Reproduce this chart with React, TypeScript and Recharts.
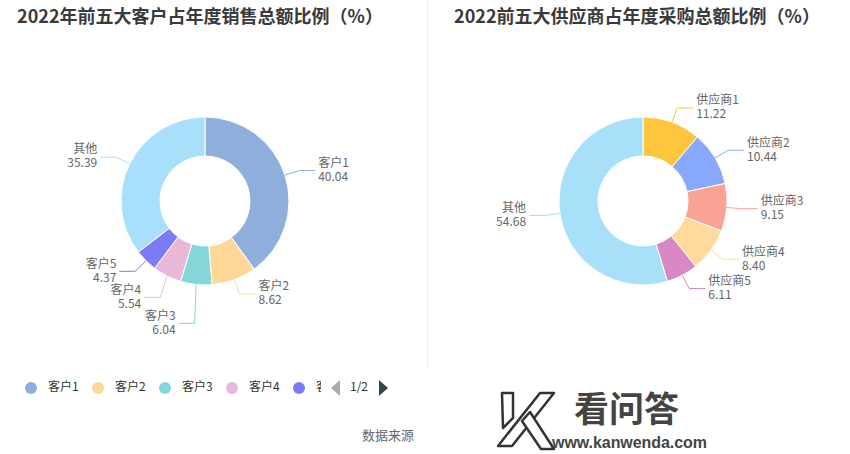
import React from "react";
import { PieChart, Pie, Cell } from "recharts";

const customerNames = ["客户1", "客户2", "客户3", "客户4", "客户5", "其他"];
const customerShares = [40.04, 8.62, 6.04, 5.54, 4.37, 35.39];
const customerColors = ["#8eaedc", "#fed898", "#84d6d8", "#e7b8da", "#7b7cf5", "#a8dffa"];

const supplierNames = ["供应商1", "供应商2", "供应商3", "供应商4", "供应商5", "其他"];
const supplierShares = [11.22, 10.44, 9.15, 8.4, 6.11, 54.68];
const supplierColors = ["#ffc53d", "#87a8fd", "#f9a396", "#ffdb9b", "#d888c4", "#a8e0fa"];

const legendNames = ["客户1", "客户2", "客户3", "客户4", "客户5"];

const FONT = "'Noto Sans CJK SC', 'Open Sans', sans-serif";
const CY = 201;
const OUTER = 84;
const INNER = 45;
const LEN1 = 15;
const LEN2 = 16;
const GAP = 26;

// push labels apart on each side, top to bottom (like echarts' overlap avoid)
function labelShifts(values: number[]) {
  const total = values.reduce((a, b) => a + b, 0);
  let cum = 0;
  const pts = values.map((v, i) => {
    const a = ((cum + v / 2) / total) * 2 * Math.PI;
    cum += v;
    const R = OUTER + LEN1;
    return { i, right: Math.sin(a) >= 0, y: CY - R * Math.cos(a) };
  });
  const shifts = values.map(() => 0);
  [true, false].forEach((side) => {
    const list = pts.filter((p) => p.right === side).sort((a, b) => a.y - b.y);
    let prev = -Infinity;
    list.forEach((p) => {
      const y = Math.max(p.y, prev + GAP);
      shifts[p.i] = y - p.y;
      prev = y;
    });
  });
  return shifts;
}

function makeLabel(names: string[], colors: string[], shifts: number[]) {
  return (props: any) => {
    const { cx, cy, midAngle, outerRadius, index, value } = props;
    const rad = (-midAngle * Math.PI) / 180;
    const sx = cx + outerRadius * Math.cos(rad);
    const sy = cy + outerRadius * Math.sin(rad);
    const ex = cx + (outerRadius + LEN1) * Math.cos(rad);
    const ey = cy + (outerRadius + LEN1) * Math.sin(rad) + shifts[index];
    const right = Math.cos(rad) >= -1e-6;
    const hx = ex + (right ? LEN2 : -LEN2);
    const tx = hx + (right ? 3 : -3);
    return (
      <g key={`lbl-${index}`}>
        <polyline
          points={`${sx},${sy} ${ex},${ey} ${hx},${ey}`}
          fill="none"
          stroke={colors[index]}
          strokeWidth={1}
        />
        <text
          x={tx}
          y={ey}
          textAnchor={right ? "start" : "end"}
          fill="#666"
          fontSize={12}
          fontFamily={FONT}
        >
          <tspan x={tx} y={ey - 7} dominantBaseline="middle">{names[index]}</tspan>
          <tspan x={tx} y={ey + 7} dominantBaseline="middle">{Number(value).toFixed(2)}</tspan>
        </text>
      </g>
    );
  };
}

function Donut({ names, values, colors, cx, width }: any) {
  const data = names.map((n: string, i: number) => ({ name: n, value: values[i] }));
  const shifts = labelShifts(values);
  return (
    <PieChart width={width} height={370} margin={{ top: 0, right: 0, bottom: 0, left: 0 }}>
      <Pie
        data={data}
        dataKey="value"
        nameKey="name"
        cx={cx}
        cy={CY}
        innerRadius={INNER}
        outerRadius={OUTER}
        startAngle={90}
        endAngle={-270}
        stroke="#fff"
        strokeWidth={1}
        labelLine={false}
        label={makeLabel(names, colors, shifts)}
        isAnimationActive={false}
      >
        {data.map((d: any, i: number) => (
          <Cell key={d.name} fill={colors[i]} />
        ))}
      </Pie>
    </PieChart>
  );
}

function Legend() {
  return (
    <svg width={425} height={30} style={{ position: "absolute", left: 0, top: 373 }}>
      <defs>
        <clipPath id="legclip">
          <rect x={0} y={0} width={321} height={30} />
        </clipPath>
      </defs>
      <g clipPath="url(#legclip)">
        {legendNames.map((n, i) => (
          <g key={n}>
            <circle cx={31 + i * 67} cy={15} r={6} fill={customerColors[i]} />
            <text x={48 + i * 67} y={15} dominantBaseline="middle" fontSize={12} fill="#333" fontFamily={FONT}>
              {n}
            </text>
          </g>
        ))}
      </g>
      <polygon points="340,7 340,23 331,15" fill="#aaa" />
      <text x={359} y={15} textAnchor="middle" dominantBaseline="middle" fontSize={12} fill="#333" fontFamily={FONT}>
        1/2
      </text>
      <polygon points="379,7 379,23 388,15" fill="#2f4554" />
    </svg>
  );
}

function Watermark() {
  return (
    <svg width={850} height={454} style={{ position: "absolute", left: 0, top: 0, pointerEvents: "none" }}>
      <g fill="#fff" stroke="#333" strokeWidth={2.5} strokeLinejoin="round">
        <polygon points="502,393 513,393 513,418 503,428" />
        <polygon points="540,393 554,393 512,446 498,446" />
        <polygon points="522,421 530,412 554,449 541,449" />
      </g>
      <text x={574} y={422} fontSize={35} fontWeight="bold" fill="#444" fontFamily={FONT}>
        看问答
      </text>
      <text
        x={552}
        y={448}
        fontSize={16}
        fontWeight="bold"
        fill="#444"
        textLength={155}
        fontFamily="'Liberation Sans', Arial, sans-serif"
      >
        www.kanwenda.com
      </text>
    </svg>
  );
}

export default function App() {
  const title: React.CSSProperties = {
    position: "absolute",
    top: 3,
    fontSize: 18,
    fontWeight: "bold",
    color: "#3a3a3a",
    fontFamily: FONT,
    whiteSpace: "nowrap",
    textAlign: "center",
    lineHeight: "24px",
  };
  return (
    <div style={{ position: "absolute", left: 0, top: 0, width: 850, height: 454, background: "#fff", overflow: "hidden" }}>
      <div style={{ ...title, left: 0, width: 400 }}>2022年前五大客户占年度销售总额比例（%）</div>
      <div style={{ ...title, left: 437, width: 400 }}>2022前五大供应商占年度采购总额比例（%）</div>
      <div style={{ position: "absolute", left: 0, top: 0 }}>
        <Donut names={customerNames} values={customerShares} colors={customerColors} cx={205} width={427} />
      </div>
      <div style={{ position: "absolute", left: 427, top: 0 }}>
        <Donut names={supplierNames} values={supplierShares} colors={supplierColors} cx={216} width={423} />
      </div>
      <div style={{ position: "absolute", left: 427, top: 0, width: 1, height: 368, background: "#eee" }} />
      <Legend />
      <div style={{ position: "absolute", left: 362, top: 425, fontSize: 13, color: "#666", fontFamily: FONT }}>
        数据来源
      </div>
      <Watermark />
    </div>
  );
}
